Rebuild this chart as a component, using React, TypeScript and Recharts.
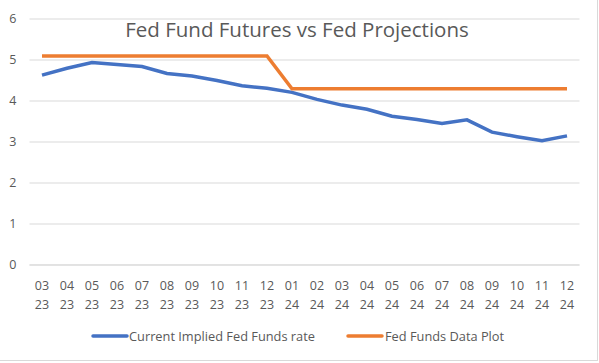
import { LineChart, Line, XAxis, YAxis, CartesianGrid } from "recharts";

const months = ["03", "04", "05", "06", "07", "08", "09", "10", "11", "12", "01", "02", "03", "04", "05", "06", "07", "08", "09", "10", "11", "12"];
const years = ["23", "23", "23", "23", "23", "23", "23", "23", "23", "23", "24", "24", "24", "24", "24", "24", "24", "24", "24", "24", "24", "24"];
const impliedRate = [4.63, 4.8, 4.94, 4.89, 4.84, 4.67, 4.61, 4.5, 4.37, 4.31, 4.21, 4.04, 3.9, 3.8, 3.63, 3.55, 3.45, 3.54, 3.24, 3.13, 3.03, 3.15];
const fedPlot = [5.1, 5.1, 5.1, 5.1, 5.1, 5.1, 5.1, 5.1, 5.1, 5.1, 4.3, 4.3, 4.3, 4.3, 4.3, 4.3, 4.3, 4.3, 4.3, 4.3, 4.3, 4.3];
const yTicks = [0, 1, 2, 3, 4, 5, 6];

const data = months.map((m, i) => ({
  label: `${m} ${years[i]}`,
  implied: impliedRate[i],
  fed: fedPlot[i],
}));

const textColor = "#595959";
const font = "'Open Sans', sans-serif";

function MonthTick(props: any) {
  const { x, y, payload } = props;
  const [m, yr] = String(payload.value).split(" ");
  return (
    <text x={x} y={y} textAnchor="middle" fill={textColor} fontSize={12.5} fontFamily={font}>
      <tspan x={x} dy={16.5}>{m}</tspan>
      <tspan x={x} dy={19.5}>{yr}</tspan>
    </text>
  );
}

export default function App() {
  return (
    <div style={{ position: "absolute", left: 0, top: 0, width: 599, height: 363, background: "#fff" }}>
      <div
        style={{
          position: "absolute",
          left: 0,
          top: 0,
          width: 597,
          height: 360,
          borderRight: "1px solid #d9d9d9",
          borderBottom: "1px solid #d9d9d9",
        }}
      />
      <LineChart width={599} height={363} data={data} margin={{ top: 19, right: 19.5, left: 0, bottom: 0 }}>
        <CartesianGrid vertical={false} stroke="#d9d9d9" />
        <XAxis
          dataKey="label"
          interval={0}
          height={98}
          padding={{ left: 12.5, right: 12.5 }}
          axisLine={{ stroke: "#d9d9d9" }}
          tickLine={false}
          tick={<MonthTick />}
        />
        <YAxis
          width={29.5}
          domain={[0, 6]}
          ticks={yTicks}
          axisLine={false}
          tickLine={false}
          tickMargin={7}
          tick={{ fill: textColor, fontSize: 12.5, fontFamily: font }}
        />
        <Line
          dataKey="implied"
          stroke="#4472c4"
          strokeWidth={3.5}
          dot={false}
          type="linear"
          isAnimationActive={false}
        />
        <Line
          dataKey="fed"
          stroke="#ed7d31"
          strokeWidth={3.5}
          dot={false}
          type="linear"
          isAnimationActive={false}
        />
      </LineChart>
      <svg width={599} height={363} style={{ position: "absolute", left: 0, top: 0, pointerEvents: "none" }}>
        <text x={297} y={37} textAnchor="middle" fill={textColor} fontSize={20.5} fontFamily={font}>
          Fed Fund Futures vs Fed Projections
        </text>
        <line x1={93} y1={336} x2={127} y2={336} stroke="#4472c4" strokeWidth={3.5} strokeLinecap="round" />
        <text x={129} y={340.5} fill={textColor} fontSize={12.8} fontFamily={font}>
          Current Implied Fed Funds rate
        </text>
        <line x1={348} y1={336} x2={382} y2={336} stroke="#ed7d31" strokeWidth={3.5} strokeLinecap="round" />
        <text x={385} y={340.5} fill={textColor} fontSize={12.8} fontFamily={font}>
          Fed Funds Data Plot
        </text>
      </svg>
    </div>
  );
}
